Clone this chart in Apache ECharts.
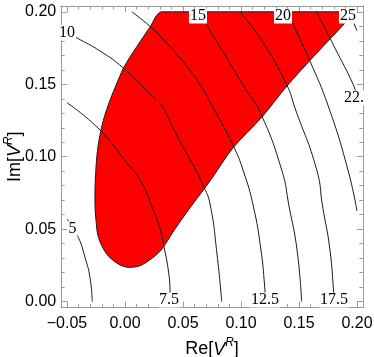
<!DOCTYPE html>
<html><head><meta charset="utf-8">
<script src="https://cdn.jsdelivr.net/npm/echarts@6/dist/echarts.min.js"></script>
<style>html,body{margin:0;padding:0;background:#fff}#c{width:374px;height:357px}</style>
</head><body><div id="c"></div>
<script>
// ---- axis ticks ----
const xMajor = [-0.05, 0.00, 0.05, 0.10, 0.15, 0.20];
const xMinor = [-0.04,-0.03,-0.02,-0.01,0.01,0.02,0.03,0.04,0.06,0.07,0.08,0.09,0.11,0.12,0.13,0.14,0.16,0.17,0.18,0.19];
const yMajor = [0.00, 0.05, 0.10, 0.15, 0.20];
const yMinor = [0.01,0.02,0.03,0.04,0.06,0.07,0.08,0.09,0.11,0.12,0.13,0.14,0.16,0.17,0.18,0.19];

// ---- allowed (red) region boundary [Re, Im] ----
const region = [
 [0.0316,0.2000],[0.1974,0.2000],[0.1897,0.1923],[0.1646,0.1709],[0.1396,0.1488],
 [0.1181,0.1274],[0.0931,0.1061],[0.0733,0.0833],[0.0578,0.0667],[0.0431,0.0502],
 [0.0319,0.0364],[0.0244,0.0306],[0.0129,0.0248],[0.0028,0.0237],[-0.0058,0.0260],
 [-0.0158,0.0329],[-0.0230,0.0446],[-0.0254,0.0598],[-0.0259,0.0674],[-0.0259,0.0771],
 [-0.0254,0.0867],[-0.0244,0.0992],[-0.0228,0.1095],[-0.0203,0.1199],[-0.0168,0.1302],
 [-0.0125,0.1399],[-0.0073,0.1502],[-0.0015,0.1609],[0.0043,0.1688],[0.0103,0.1761],
 [0.0216,0.1895]
];

// ---- contour lines [Re, Im] ----
const c5   = [[-0.0500,0.0570],[-0.0403,0.0444],[-0.0345,0.0306],[-0.0302,0.0168],[-0.0282,0.0000]];
const c7_5 = [[-0.0500,0.1373],[-0.0216,0.1185],[0.0015,0.0959],[0.0129,0.0842],[0.0230,0.0660],[0.0302,0.0502],[0.0330,0.0403],[0.0373,0.0219],[0.0388,0.0081],[0.0390,0.0000]];
const c10  = [[-0.0501,0.1854],[-0.0416,0.1820],[-0.0216,0.1730],[-0.0015,0.1613],[0.0216,0.1433],[0.0319,0.1350],[0.0431,0.1171],[0.0586,0.0943],[0.0672,0.0805],[0.0733,0.0674],[0.0793,0.0329],[0.0834,0.0000]];
const c12_5= [[0.0058,0.2000],[0.0216,0.1900],[0.0302,0.1833],[0.0474,0.1682],[0.0647,0.1497],[0.0761,0.1337],[0.0934,0.1074],[0.1020,0.0902],[0.1106,0.0660],[0.1172,0.0357],[0.1203,0.0115],[0.1211,0.0000]];
const c15  = [[0.0647,0.2000],[0.0704,0.1911],[0.0877,0.1682],[0.1034,0.1475],[0.1164,0.1309],[0.1351,0.0909],[0.1414,0.0660],[0.1483,0.0357],[0.1523,0.0000]];
const c17_5= [[0.0991,0.2000],[0.1181,0.1799],[0.1394,0.1497],[0.1465,0.1337],[0.1653,0.0909],[0.1703,0.0660],[0.1767,0.0357],[0.1802,0.0035],[0.1806,0.0000]];
const c20  = [[0.1405,0.2000],[0.1451,0.1911],[0.1595,0.1659],[0.1752,0.1350],[0.1922,0.0909],[0.2000,0.0626]];
const c22_5= [[0.1652,0.2000],[0.1810,0.1750],[0.1968,0.1497],[0.2000,0.1412]];
const c25  = [[0.1940,0.2000],[0.1983,0.1902],[0.2000,0.1868]];
const contours = [c5, c7_5, c10, c12_5, c15, c17_5, c20, c22_5, c25];

// ---- contour labels ----
const labelText = ['5','7.5','10','12.5','15','17.5','20','22.5','25'];
const labelRe   = [-0.0453, 0.0379, -0.0500, 0.1207, 0.0629, 0.1802, 0.1362, 0.1974, 0.1922];
const labelIm   = [ 0.0502, 0.0012,  0.1854, 0.0012, 0.1971, 0.0012, 0.1971, 0.1406, 0.1971];

const xMin=-0.055, xMax=0.205, yMin=-0.004, yMax=0.204;
const FR='#9a9a9a';
const SANS='"Liberation Sans", Arial, sans-serif';
const SERIF='"Liberation Serif", "Times New Roman", serif';
const fmt = v => (v < 0 ? '\u2212' : '') + Math.abs(v).toFixed(2);

function ax(kind, pos, vals, len, withLabel, extra) {
  const o = {
    type:'value', position:pos, min: kind==='x'?xMin:yMin, max: kind==='x'?xMax:yMax,
    axisLine:{show:true, onZero:false, lineStyle:{color:FR, width:1}},
    axisTick:{show:true, inside:true, length:len, customValues:vals, lineStyle:{color:FR, width:1}},
    axisLabel:{show:withLabel, customValues:vals, formatter:fmt, color:'#000', fontSize:16, fontFamily:SANS, margin: kind==='x'?8:5},
    splitLine:{show:false}, minorTick:{show:false}
  };
  return Object.assign(o, extra||{});
}
const nameRich = {
  n:{fontSize:18, fontFamily:SANS, color:'#000', lineHeight:22, verticalAlign:'bottom'},
  v:{fontSize:18, fontFamily:SANS, fontStyle:'italic', color:'#000', lineHeight:22, verticalAlign:'bottom'},
  s:{fontSize:12, fontFamily:SANS, fontStyle:'italic', color:'#000', lineHeight:22, verticalAlign:'top'}
};

const chart = echarts.init(document.getElementById('c'), null, {renderer:'canvas'});
const series = [];
series.push({
  type:'custom', clip:true, z:1, data:[region[0]],
  renderItem:(params, api) => {
    const pts = region.map(p => api.coord(p));
    const xs = pts.map(p => p[0]), ys = pts.map(p => p[1]);
    const bb = [[Math.min.apply(null, xs), Math.min.apply(null, ys)], [Math.max.apply(null, xs), Math.max.apply(null, ys)]];
    return {
      type:'polygon',
      shape:{points: pts, smooth:0.3, smoothConstraint: bb},
      style:{fill:'#ff0000', stroke:'#1a1a1a', lineWidth:1}
    };
  }
});
contours.forEach(c => series.push({
  type:'line', data:c, smooth:0.5, symbol:'none', z:2, silent:true, clip:true,
  lineStyle:{color:'#1a1a1a', width:1}
}));
series.push({
  type:'scatter', z:5, symbolSize:0, silent:true, clip:false,
  itemStyle:{opacity:1},
  data: labelText.map((t,i)=>{
    const d = {name:t, value:[labelRe[i], labelIm[i]]};
    if (t === '22.5') d.label = {width:24, overflow:'truncate', ellipsis:'', align:'center'};
    return d;
  }),
  label:{show:true, position:'inside', formatter:p=>p.name, color:'#000', fontFamily:SERIF, fontSize:16,
         backgroundColor:'#ffffff', opacity:1, padding:[0,1], lineHeight:15}
});

chart.setOption({
  animation:false,
  backgroundColor:'#fff',
  grid:{left:61.2, right:11.2, top:6, bottom:49.5, containLabel:false, outerBoundsMode:'none'},
  xAxis:[
    ax('x','bottom',xMajor,6,true,{name:'{n|Re[}{v|V}{s|R}{n|]}', nameLocation:'middle', nameGap:29, nameMoveOverlap:false, nameTextStyle:{rich:nameRich}}),
    ax('x','bottom',xMinor,3.5,false),
    ax('x','top',xMajor,6,false),
    ax('x','top',xMinor,3.5,false)
  ],
  yAxis:[
    ax('y','left',yMajor,6,true,{name:'{n|Im[}{v|V}{s|R}{n|]}', nameLocation:'middle', nameGap:37, nameMoveOverlap:false, nameTextStyle:{rich:nameRich}}),
    ax('y','left',yMinor,3.5,false),
    ax('y','right',yMajor,6,false),
    ax('y','right',yMinor,3.5,false)
  ],
  series: series
});
</script></body></html>
